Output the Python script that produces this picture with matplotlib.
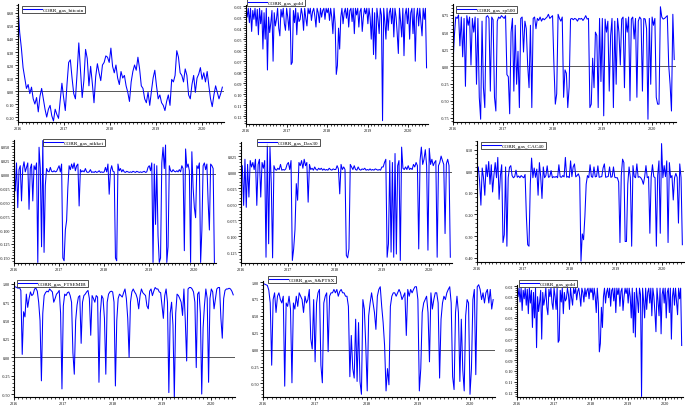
import pandas as pd
import matplotlib
matplotlib.use("Agg")
import matplotlib.pyplot as plt
import matplotlib.dates as mdates
from matplotlib.ticker import MultipleLocator, FuncFormatter

plt.rcParams['font.family'] = ['Liberation Serif', 'DejaVu Serif']

inicio = "2016-01-01"
fin = "2020-06-12"

# correlaciones (aprox.)
bitcoin = [0.64, 0.45, 0.33, 0.18, 0.10, 0.02, 0.05, -0.02, 0.03, -0.06, -0.10, -0.05,
           -0.16, -0.04, 0.02, -0.06, -0.14, -0.20, -0.14, -0.11, -0.19, -0.23, -0.14, -0.18,
           -0.21, -0.07, 0.06, -0.05, -0.15, 0.05, 0.22, 0.24, 0.10, -0.02, -0.06, 0.14,
           0.37, 0.16, -0.05, 0.08, 0.32, 0.25, 0.04, 0.19, 0.06, -0.09, 0.11, 0.21,
           0.14, 0.08, 0.20, 0.22, 0.27, 0.26, 0.22, 0.33, 0.19, 0.14, 0.20, 0.10,
           0.05, 0.15, 0.10, 0.12, 0.04, -0.01, -0.08, 0.07, 0.15, 0.20, 0.16, 0.26,
           0.17, 0.04, 0.02, -0.06, -0.09, -0.01, -0.11, 0.00, 0.10, 0.16, 0.04, -0.06,
           -0.03, -0.09, -0.11, -0.15, -0.08, -0.03, -0.11, 0.09, 0.07, 0.12, 0.31, 0.26,
           0.14, 0.12, 0.07, 0.17, 0.12, -0.03, -0.06, 0.05, 0.12, -0.01, 0.10, 0.13,
           0.18, 0.09, 0.14, 0.07, 0.15, 0.04, -0.06, -0.12, -0.03, 0.04, -0.01, -0.06,
           -0.02, 0.03]

gold = [-0.022, -0.030, -0.022, -0.035, -0.022, -0.043, -0.024, -0.032, -0.022, -0.038, -0.023, -0.046,
        -0.022, -0.036, -0.024, -0.059, -0.026, -0.050, -0.022, -0.078, -0.030, -0.044, -0.035, -0.024,
        -0.070, -0.026, -0.038, -0.032, -0.022, -0.040, -0.047, -0.023, -0.030, -0.022, -0.036, -0.042,
        -0.022, -0.030, -0.042, -0.022, -0.073, -0.071, -0.024, -0.035, -0.022, -0.046, -0.026, -0.034,
        -0.032, -0.022, -0.028, -0.042, -0.022, -0.031, -0.038, -0.022, -0.027, -0.022, -0.033, -0.025,
        -0.022, -0.029, -0.039, -0.022, -0.026, -0.035, -0.022, -0.030, -0.024, -0.022, -0.032, -0.022,
        -0.026, -0.022, -0.033, -0.022, -0.030, -0.045, -0.022, -0.036, -0.082, -0.074, -0.040, -0.059,
        -0.030, -0.022, -0.036, -0.026, -0.022, -0.031, -0.022, -0.039, -0.024, -0.022, -0.034, -0.022,
        -0.045, -0.022, -0.028, -0.022, -0.039, -0.025, -0.022, -0.043, -0.030, -0.022, -0.027, -0.022,
        -0.036, -0.022, -0.030, -0.050, -0.022, -0.064, -0.026, -0.068, -0.022, -0.032, -0.045, -0.022,
        -0.028, -0.124, -0.022, -0.034, -0.050, -0.022, -0.042, -0.026, -0.022, -0.036, -0.022, -0.048,
        -0.022, -0.030, -0.045, -0.063, -0.022, -0.034, -0.048, -0.022, -0.065, -0.028, -0.022, -0.036,
        -0.022, -0.050, -0.026, -0.022, -0.045, -0.022, -0.070, -0.030, -0.022, -0.038, -0.022, -0.035,
        -0.047, -0.022, -0.032, -0.022, -0.076]

sp500 = [0.05, 0.45, 0.72, 0.70, 0.75, 0.30, 0.72, 0.14, 0.70, -0.29, 0.74, 0.60,
         0.72, 0.02, 0.70, 0.50, 0.72, -0.26, 0.70, -0.45, -0.77, 0.66, -0.31, -0.60,
         0.72, 0.74, 0.70, -0.36, 0.72, 0.68, -0.45, -0.65, 0.66, 0.72, 0.70, 0.74,
         0.72, 0.70, 0.74, -0.12, -0.15, -0.69, 0.50, 0.70, -0.36, 0.60, -0.26, 0.22,
         -0.60, 0.70, 0.72, 0.21, 0.66, 0.55, 0.02, -0.31, 0.60, -0.60, 0.70, 0.72,
         0.55, 0.70, 0.67, 0.72, 0.66, 0.70, 0.68, 0.70, 0.72, 0.76, 0.70, 0.72,
         0.74, 0.02, -0.55, -0.40, 0.76, 0.70, 0.66, 0.72, -0.45, -0.05, -0.10, -0.60,
         -0.30, 0.69, 0.70, 0.68, 0.70, 0.69, 0.66, 0.70, 0.69, 0.70, 0.67, 0.70,
         0.74, 0.69, 0.70, -0.60, -0.55, 0.12, -0.31, 0.50, 0.45, -0.60, 0.70, -0.22,
         0.70, -0.72, 0.69, 0.50, 0.66, -0.36, 0.45, 0.70, -0.60, 0.66, -0.26, 0.70,
         0.50, 0.02, 0.69, 0.72, -0.31, 0.70, 0.50, 0.72, -0.50, 0.69, 0.72, 0.40,
         0.70, -0.45, 0.66, 0.72, 0.69, -0.36, 0.70, 0.69, 0.55, -0.77, 0.70, -0.26,
         0.72, 0.60, 0.70, -0.45, -0.55, -0.55, 0.87, 0.72, 0.69, 0.70, 0.72, 0.74,
         0.02, -0.26, -0.65, 0.76, 0.10]

nikkei = [0.005, -0.030, 0.020, -0.060, 0.008, 0.015, -0.048, 0.010, 0.022, 0.004, 0.012, 0.020,
          -0.063, 0.010, 0.018, -0.048, 0.015, 0.008, 0.020, -0.158, 0.048, 0.010, -0.130, 0.060,
          -0.140, -0.020, 0.010, 0.005, 0.004, 0.012, 0.005, 0.004, 0.006, 0.004, 0.005, 0.010,
          0.015, 0.004, 0.018, -0.150, -0.155, -0.100, -0.083, -0.024, 0.015, 0.008, 0.018, 0.010,
          0.020, 0.006, 0.015, 0.018, -0.057, 0.008, 0.004, 0.006, 0.004, 0.010, 0.004, 0.003,
          0.004, 0.008, 0.003, 0.004, 0.003, 0.005, 0.003, 0.004, 0.006, 0.003, 0.004, 0.003,
          0.004, 0.012, 0.004, 0.018, -0.036, 0.006, 0.015, 0.005, 0.004, -0.150, -0.155, 0.018,
          0.006, 0.010, 0.004, 0.008, 0.004, 0.003, 0.005, 0.004, 0.003, 0.004, 0.003, 0.005,
          0.004, 0.003, 0.005, 0.004, 0.003, 0.004, 0.003, 0.004, 0.005, 0.003, 0.004, 0.012,
          0.015, 0.006, 0.020, -0.158, 0.018, -0.090, 0.015, -0.110, -0.158, -0.150, 0.020, 0.048,
          0.010, 0.052, -0.158, -0.130, 0.015, 0.006, 0.004, 0.008, 0.005, 0.004, 0.006, 0.004,
          0.008, 0.004, 0.015, 0.010, -0.137, 0.045, 0.012, 0.018, 0.006, -0.158, 0.040, -0.024,
          -0.060, -0.078, 0.015, 0.010, 0.020, -0.158, -0.100, 0.015, 0.020, 0.008, 0.018, -0.050,
          -0.100, 0.018, 0.015, 0.010, -0.158]

dax30 = [0.004, 0.010, -0.052, 0.020, -0.055, 0.012, -0.039, 0.018, 0.008, 0.015, 0.004, 0.020,
         -0.052, 0.012, 0.020, -0.039, 0.015, 0.006, 0.018, -0.133, 0.044, -0.112, 0.039, -0.018,
         -0.134, 0.010, 0.004, 0.003, 0.006, 0.004, 0.012, 0.003, 0.004, 0.003, 0.005, 0.012,
         0.015, 0.004, 0.018, -0.138, -0.120, -0.090, -0.018, -0.044, 0.015, 0.010, 0.018, 0.006,
         0.020, 0.010, 0.015, -0.047, 0.012, 0.004, 0.006, 0.003, 0.008, 0.004, 0.003, 0.006,
         0.004, 0.006, 0.003, 0.005, 0.003, 0.004, 0.003, 0.006, 0.004, 0.003, 0.005, 0.004,
         0.004, 0.010, 0.005, -0.034, 0.012, 0.004, 0.008, 0.004, -0.130, -0.134, -0.120, 0.012,
         0.008, 0.004, 0.010, 0.004, 0.003, 0.008, 0.004, 0.003, 0.005, 0.004, 0.006, 0.003,
         0.004, 0.003, 0.005, 0.003, 0.004, 0.003, 0.005, 0.004, 0.003, 0.004, 0.003, 0.008,
         0.008, 0.015, 0.020, -0.133, -0.112, 0.018, -0.125, 0.015, -0.133, 0.029, -0.128, 0.010,
         0.018, -0.138, 0.039, 0.006, 0.004, 0.008, 0.004, 0.010, 0.004, 0.006, 0.004, 0.012,
         0.008, 0.015, 0.010, -0.120, 0.018, 0.039, 0.012, 0.020, 0.035, 0.010, -0.122, 0.037,
         0.012, 0.020, 0.010, 0.015, 0.018, -0.133, 0.010, 0.015, 0.025, 0.018, 0.012, -0.096,
         0.013, 0.020, 0.010, -0.133]

cac40 = [-0.020, 0.020, -0.045, -0.157, 0.015, -0.030, -0.111, 0.030, -0.025, 0.045, -0.060, 0.030,
         -0.096, -0.020, 0.040, -0.030, 0.064, -0.130, -0.020, 0.030, -0.330, -0.294, 0.020, -0.347,
         -0.030, 0.018, 0.026, -0.020, -0.030, -0.025, 0.005, -0.028, -0.022, -0.030, -0.020, -0.026,
         -0.030, -0.015, -0.210, -0.340, -0.347, -0.060, 0.061, -0.030, 0.015, -0.028, 0.010, -0.111,
         0.040, -0.025, -0.126, 0.020, -0.030, -0.020, 0.025, -0.028, -0.025, 0.003, -0.030, -0.025,
         -0.028, -0.024, -0.030, 0.030, -0.026, -0.028, -0.020, -0.026, 0.064, -0.028, -0.024, -0.030,
         0.048, -0.025, 0.020, 0.034, -0.026, -0.020, -0.012, -0.030, -0.416, -0.290, -0.317, -0.210,
         -0.060, -0.020, -0.030, 0.030, -0.025, -0.028, 0.020, -0.026, -0.024, 0.025, -0.028, -0.026,
         -0.025, 0.015, 0.034, -0.028, -0.026, -0.024, 0.020, -0.028, -0.025, 0.020, -0.028, -0.030,
         -0.030, -0.050, -0.330, -0.020, 0.056, 0.040, -0.325, -0.325, -0.060, 0.020, -0.030, -0.347,
         0.026, -0.025, -0.030, 0.034, -0.028, -0.025, -0.030, -0.040, -0.060, -0.026, 0.026, -0.030,
         -0.025, -0.287, -0.028, 0.030, -0.025, -0.030, -0.347, -0.020, 0.048, -0.287, 0.128, -0.030,
         0.026, -0.025, 0.048, -0.330, 0.040, -0.030, -0.020, -0.133, -0.030, -0.010, -0.028, -0.240,
         0.034, -0.030, -0.340]

ftsemib = [0.95, 0.96, 0.95, 0.94, 0.95, 0.91, 0.04, 0.62, 0.55, 0.86, 0.68, 0.80,
           0.89, 0.84, 0.86, 0.93, 0.94, 0.90, 0.75, 0.50, -0.32, 0.60, 0.84, 0.88,
           0.90, 0.89, 0.93, 0.91, 0.89, 0.75, 0.80, 0.86, 0.88, 0.91, 0.60, -0.43,
           0.70, 0.86, 0.84, 0.88, 0.89, 0.84, 0.75, 0.06, -0.23, 0.50, 0.71, 0.82,
           0.84, 0.19, 0.75, 0.84, 0.86, 0.89, 0.91, 0.80, 0.30, 0.84, 0.80, 0.75,
           0.84, 0.82, -0.34, 0.60, 0.84, 0.80, 0.53, -0.23, 0.75, 0.86, 0.89, 0.90,
           0.89, 0.75, -0.39, 0.50, 0.80, 0.86, 0.84, 0.82, 0.88, 0.93, 0.80, 0.53,
           0.00, 0.75, 0.89, 0.93, 0.89, 0.86, 0.80, 0.66, 0.84, 0.93, 0.88, 0.86,
           0.84, 0.70, 0.66, 0.90, 0.93, 0.84, 0.90, 0.95, 0.93, 0.93, 0.89, 0.88,
           0.70, 0.53, 0.84, 0.93, 0.75, -0.48, 0.60, 0.75, 0.44, -0.55, 0.60, 0.86,
           0.84, 0.80, 0.75, 0.57, 0.93, 0.50, -0.05, 0.93, 0.95, 0.95, 0.93, 0.89,
           0.75, -0.14, 0.86, 0.89, 0.60, -0.50, 0.40, 0.71, 0.93, 0.80, -0.34, 0.80,
           0.93, 0.89, 0.66, 0.80, 0.93, 0.95, 0.95, 0.53, 0.26, 0.80, 0.91, 0.93,
           0.93, 0.94, 0.93, 0.90, 0.85]

sptsx = [0.98, 0.97, 0.96, 0.95, 0.88, 0.69, -0.23, 0.74, 0.84, 0.55, 0.79, 0.84,
         0.74, 0.69, 0.79, -0.54, 0.69, 0.64, 0.79, 0.60, -0.49, 0.69, 0.60, 0.79,
         0.64, 0.84, 0.79, 0.74, 0.55, 0.79, 0.69, 0.74, 0.89, 0.16, 0.01, 0.74,
         -0.18, 0.69, 0.84, 0.89, -0.23, -0.49, 0.69, 0.79, 0.84, -0.03, 0.79, 0.84,
         0.84, 0.89, 0.84, 0.89, 0.79, 0.86, 0.89, 0.84, 0.84, 0.79, 0.79, 0.64,
         -0.40, 0.21, -0.28, -0.42, 0.45, -0.47, 0.40, -0.47, -0.66, 0.74, 0.60, 0.06,
         -0.61, 0.50, 0.69, 0.84, 0.69, 0.55, 0.30, 0.79, 0.89, 0.93, 0.64, 0.40,
         0.06, -0.61, -0.28, -0.52, 0.64, 0.79, 0.84, 0.84, 0.79, 0.84, 0.89, 0.84,
         0.74, 0.79, 0.84, 0.21, 0.89, 0.79, 0.89, 0.84, 0.89, 0.93, 0.93, 0.74,
         -0.61, -0.28, 0.55, 0.69, 0.74, 0.79, 0.55, -0.18, 0.84, 0.60, 0.74, 0.84,
         0.84, 0.69, -0.42, 0.45, 0.69, 0.79, 0.74, 0.84, 0.89, 0.93, 0.69, -0.40,
         -0.59, 0.55, 0.79, 0.55, -0.47, 0.45, -0.30, -0.61, 0.50, 0.74, 0.69, -0.66,
         -0.28, 0.74, 0.89, -0.37, 0.93, 0.96, 0.89, 0.74, 0.84, 0.69, 0.84, 0.89,
         0.69, 0.89, 0.60, 0.74]


def fmt_eje(f):
    return FuncFormatter(lambda v, p: f % (0.0 if abs(v) < 1e-9 else v))


def panel(fig, caja, vals, nombre, ylim, paso, f, ley, cero=True):
    l, t, r, b = caja
    ax = fig.add_axes([l / 685, 1 - b / 406, (r - l) / 685, (b - t) / 406])
    fechas = pd.date_range(inicio, fin, periods=len(vals))
    if cero:
        ax.axhline(0, color="#555555", lw=0.7, zorder=1)
    ax.plot(fechas, vals, color="blue", lw=0.75, label=nombre, zorder=2)
    ax.set_xlim(pd.Timestamp(inicio), pd.Timestamp("2020-06-25"))
    ax.set_ylim(*ylim)
    ax.xaxis.set_major_locator(mdates.YearLocator())
    ax.xaxis.set_major_formatter(mdates.DateFormatter("%Y"))
    ax.xaxis.set_minor_locator(mdates.MonthLocator())
    ax.yaxis.set_major_locator(MultipleLocator(paso))
    ax.yaxis.set_minor_locator(MultipleLocator(paso / 5))
    ax.yaxis.set_major_formatter(fmt_eje(f))
    for s in ["top", "right"]:
        ax.spines[s].set_visible(False)
    for s in ["left", "bottom"]:
        ax.spines[s].set_linewidth(0.8)
    ax.tick_params(which="major", length=2, width=0.6, labelsize=3.0, pad=0.8)
    ax.tick_params(which="minor", length=1.2, width=0.5)
    leg = ax.legend(loc="upper left", bbox_to_anchor=(ley[0] / 685, 1 - ley[1] / 406),
                    bbox_transform=fig.transFigure, fontsize=3.8, frameon=True,
                    fancybox=False, handlelength=3.5, handletextpad=0.3,
                    borderpad=0.2, borderaxespad=0)
    leg.get_frame().set_edgecolor("black")
    leg.get_frame().set_linewidth(0.6)
    return ax


fig = plt.figure(figsize=(6.85, 4.06), dpi=100)

panel(fig, (18, 5, 224, 123), bitcoin, "CORR_gas_bitcoin", (-0.238, 0.669), 0.1, "%.2f", (22, 7))
panel(fig, (246, 6, 428, 125), gold, "CORR_gas_gold", (-0.127, -0.019), 0.01, "%.2f", (247, 0), cero=False)
panel(fig, (453, 5, 676, 123), sp500, "CORR_gas_sp500", (-0.81, 0.91), 0.25, "%.2f", (456, 7))

panel(fig, (14, 141, 216, 264), nikkei, "CORR_gas_nikkei", (-0.159, 0.061), 0.025, "%.3f", (43, 140))
panel(fig, (241, 143, 452, 264), dax30, "CORR_gas_Dax30", (-0.142, 0.047), 0.025, "%.3f", (257, 140))
panel(fig, (477, 142, 684, 263), cac40, "CORR_gas_CAC40", (-0.42, 0.14), 0.1, "%.2f", (481, 143))

panel(fig, (14, 283, 235, 398), ftsemib, "CORR_gas_FTSEMIB", (-0.54, 1.025), 0.25, "%.2f", (17, 281))
panel(fig, (263, 282, 495, 398), sptsx, "CORR_gas_S&PTSX", (-0.70, 1.015), 0.25, "%.2f", (268, 277))
panel(fig, (517, 286, 683, 398), gold, "CORR_gas_gold", (-0.1245, -0.019), 0.01, "%.2f", (519, 281), cero=False)

fig.savefig("out.png", dpi=100)
